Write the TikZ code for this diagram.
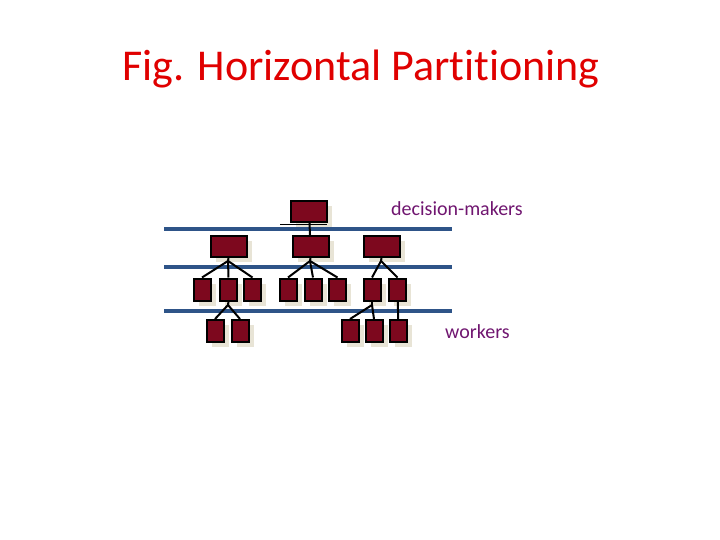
\documentclass[tikz,border=0pt]{standalone}
\usepackage{fontspec}
\setmainfont[Ligatures=NoCommon]{Carlito}
\usetikzlibrary{shadows}
\definecolor{boxred}{RGB}{125,8,30}
\definecolor{shadowbeige}{RGB}{232,228,214}
\definecolor{layerblue}{RGB}{46,84,136}
\definecolor{labelpurple}{RGB}{112,22,112}
\definecolor{titlered}{RGB}{224,0,0}
\tikzstyle{unit}=[rectangle,fill=boxred,draw=black,line width=2pt,inner sep=0pt,drop shadow={shadow xshift=5pt,shadow yshift=-5pt,fill=shadowbeige,opacity=1}]
\tikzstyle{bigunit}=[unit,minimum width=36pt,minimum height=21pt]
\tikzstyle{smallunit}=[unit,minimum width=17pt,minimum height=22pt]
\tikzstyle{layer} = [draw=layerblue,line width=4pt]
\tikzstyle{link} = [draw,line width=2pt]
\tikzstyle{tag} = [text=labelpurple,font=\fontsize{20}{24}\selectfont,inner sep=0pt]

\begin{document}
\begin{tikzpicture}[x=1pt,y=-1pt]
\useasboundingbox (0,0) rectangle (720,540);

% Title
\node[text=titlered,font=\fontsize{44}{52}\selectfont,anchor=base,inner sep=0pt] (title) at (361,81) {Fig. Horizontal Partitioning};

% layer lines
\foreach \y/\name in {229/top, 267/mid, 311/low}
    \coordinate (\name W) at (164,\y);
\foreach \y/\name in {229/top, 267/mid, 311/low}
    \coordinate (\name E) at (452,\y);

%layer 0
\node[bigunit] (boss) at (309,211.5) {};

%layer 1
\foreach \pos/\name in {{(228.5,246.5)/a}, {(310.5,246.5)/b}, {(381.5,246.5)/c}}
    \node[bigunit] (\name) at \pos {};

%layer 2
\foreach \pos/\name in {{(202,289.5)/a1}, {(228.5,289.5)/a2}, {(252.5,289.5)/a3}, {(288,289.5)/b1}, {(313,289.5)/b2}, {(337.5,289.5)/b3}, {(372,289.5)/c1}, {(397.5,289.5)/c2}}
    \node[smallunit] (\name) at \pos {};

%layer 3
\foreach \pos/\name in {{(215,331)/a21}, {(240,331)/a22}, {(350,331)/c11}, {(374,331)/c12}, {(398.5,331)/c21}}
    \node[smallunit] (\name) at \pos {};

% lines
\foreach \name in {top, mid, low}
    \path[layer] (\name W) -- (\name E);

% stand under the top unit
\coordinate (standL) at (280,225);
\coordinate (standR) at (327,225);
\path[link,line width=1pt] (standL) -- (standR);
\path[link] (boss) -- (b);

% joints
\coordinate (aj) at (228,261);
\coordinate (bj) at (310,261);
\coordinate (cj) at (381,261);
\coordinate (a2j) at (228,305);
\coordinate (c1j) at (372,305);

\foreach \source/ \joint in {a/aj, b/bj, c/cj, a2/a2j, c1/c1j}
    \path[link] (\source.south) -- (\joint);
\foreach \joint/ \dest in {aj/a1, aj/a2, aj/a3, bj/b1, bj/b2, bj/b3, cj/c1, cj/c2, a2j/a21, a2j/a22, c1j/c11, c1j/c12}
    \path[link] (\joint) -- (\dest.north);
\path[link] (c2) -- (c21);

% Label
\node[tag,anchor=west] (dm) at (391,209) {decision-makers};
\node[tag,anchor=west] (wk) at (445,332) {workers};

\end{tikzpicture}
\end{document}
